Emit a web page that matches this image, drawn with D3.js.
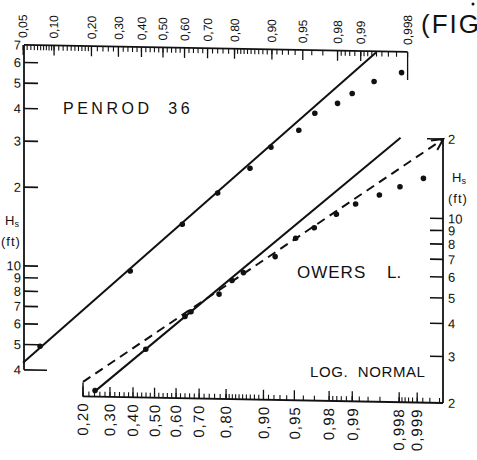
<!DOCTYPE html>
<meta charset="utf-8">
<script src="https://d3js.org/d3.v7.min.js"></script>
<style>
  body { margin: 0; background: #fff; }
  text { font-family: "Liberation Sans", Arial, sans-serif; fill: #111; }
</style>
<svg id="fig" width="477" height="460"></svg>
<script>
// ---- data ----
// Penrod 36 (upper panel, top probability axis, left H axis)
var penrodP = [0.074, 0.35, 0.59, 0.74, 0.847, 0.898, 0.945, 0.963, 0.98, 0.987, 0.9935, 0.9975];
var penrodH = [4.94, 9.72, 14.8, 19.6, 24.5, 29.6, 34.5, 40.2, 44.0, 48.1, 53.7, 58.3];
var penrodFitP = [0.0498, 0.9939];
var penrodFitH = [4.26, 69.3];

// Owers L. (lower panel, bottom probability axis, right H axis)
var owersP = [0.242, 0.459, 0.640, 0.666, 0.776, 0.819, 0.852, 0.922, 0.9516, 0.9699, 0.9838, 0.9910, 0.99592, 0.99806, 0.99922];
var owersH = [2.11, 3.05, 4.08, 4.26, 4.99, 5.63, 6.04, 6.98, 8.22, 9.04, 10.2, 11.19, 12.15, 13.1, 14.15];
var owersSolidP = [0.238, 0.9981];
var owersSolidH = [2.08, 20.1];
var owersDashP = [0.2, 0.99966];
var owersDashH = [2.27, 20];

// axis ticks and labels
var topTicks = [0.05, 0.10, 0.20, 0.30, 0.40, 0.50, 0.60, 0.70, 0.80, 0.90, 0.95, 0.98, 0.99, 0.998];
var topLabels = ["0,05", "0,10", "0,20", "0,30", "0,40", "0,50", "0,60", "0,70", "0,80", "0,90", "0,95", "0,98", "0,99", "0,998"];
var bottomTicks = [0.20, 0.30, 0.40, 0.50, 0.60, 0.70, 0.80, 0.90, 0.95, 0.98, 0.99, 0.998, 0.999];
var bottomLabels = ["0,20", "0,30", "0,40", "0,50", "0,60", "0,70", "0,80", "0,90", "0,95", "0,98", "0,99", "0,998", "0,999"];
var leftTicks = [4, 5, 6, 7, 8, 9, 10, 20, 30, 40, 50, 60, 70];
var leftLabels = ["4", "5", "6", "7", "8", "9", "10", "2", "3", "4", "5", "6", "7"];
var rightTicks = [2, 3, 4, 5, 6, 7, 8, 9, 10, 20];
var rightLabels = ["2", "3", "4", "5", "6", "7", "8", "9", "10", "2"];

// minor ticks of the probability paper
function fix(a) { return a.map(function(v) { return +v.toFixed(5); }); }
var topMinor = fix([].concat(d3.range(0.05, 0.1, 0.005), d3.range(0.1, 0.2, 0.01), d3.range(0.2, 0.8, 0.02),
  d3.range(0.8, 0.95, 0.01), [0.96, 0.97], d3.range(0.98, 0.99, 0.002), d3.range(0.99, 0.998, 0.001)));
var bottomMinor = fix([].concat(d3.range(0.2, 0.8, 0.02), d3.range(0.8, 0.95, 0.01), [0.96, 0.97],
  d3.range(0.98, 0.99, 0.002), d3.range(0.99, 0.998, 0.002), d3.range(0.998, 0.999, 0.0002), [0.9992, 0.9994, 0.9996]));

// inverse normal cdf (Acklam)
function probit(p) {
  var a = [-3.969683028665376e+01, 2.209460984245205e+02, -2.759285104469687e+02, 1.383577518672690e+02, -3.066479806614716e+01, 2.506628277459239e+00];
  var b = [-5.447609879822406e+01, 1.615858368580409e+02, -1.556989798598866e+02, 6.680131188771972e+01, -1.328068155288572e+01];
  var c = [-7.784894002430293e-03, -3.223964580411365e-01, -2.400758277161838e+00, -2.549732539343734e+00, 4.374664141464968e+00, 2.938163982698783e+00];
  var d = [7.784695709041462e-03, 3.224671290700398e-01, 2.445134137142996e+00, 3.754408661907416e+00];
  var pl = 0.02425, q, r;
  if (p < pl) {
    q = Math.sqrt(-2 * Math.log(p));
    return (((((c[0]*q+c[1])*q+c[2])*q+c[3])*q+c[4])*q+c[5]) / ((((d[0]*q+d[1])*q+d[2])*q+d[3])*q+1);
  }
  if (p > 1 - pl) {
    q = Math.sqrt(-2 * Math.log(1 - p));
    return -(((((c[0]*q+c[1])*q+c[2])*q+c[3])*q+c[4])*q+c[5]) / ((((d[0]*q+d[1])*q+d[2])*q+d[3])*q+1);
  }
  q = p - 0.5; r = q * q;
  return (((((a[0]*r+a[1])*r+a[2])*r+a[3])*r+a[4])*r+a[5])*q / (((((b[0]*r+b[1])*r+b[2])*r+b[3])*r+b[4])*r+1);
}

var svg = d3.select("#fig");

// the scanned page is slightly sheared, so the whole chart sits in a skewed group
var g = svg.append("g").attr("transform", "skewY(1.05)");

// scales
var zTop = d3.scaleLinear().domain([probit(0.05), probit(0.998)]).range([23.2, 407.6]);
var xTop = function(p) { return zTop(probit(p)); };
var yTop = d3.scaleLog().domain([10, 70]).range([265.4, 44.5]);

var zBot = d3.scaleLinear().domain([probit(0.2), probit(0.999)]).range([83, 417.2]);
var xBot = function(p) { return zBot(probit(p)); };
var yBot = d3.scaleLog().domain([2, 20]).range([394.9, 130.9]);

var leftX = 24, rightX = 443;
var topY = yTop(70), botY = yBot(2);

var ax = g.append("g").attr("stroke", "#111").attr("fill", "none");

// ---- top probability axis ----
ax.append("line").attr("x1", leftX).attr("x2", xTop(0.998)).attr("y1", topY).attr("y2", topY).attr("stroke-width", 1.8);
ax.selectAll(".tmin").data(topMinor).enter().append("line")
  .attr("x1", xTop).attr("x2", xTop).attr("y1", topY).attr("y2", topY + 5).attr("stroke-width", 1.1);
ax.selectAll(".tmaj").data(topTicks).enter().append("line")
  .attr("x1", xTop).attr("x2", xTop).attr("y1", topY)
  .attr("y2", function(d) { return d === 0.998 ? topY + 28 : topY + 10; }).attr("stroke-width", 1.3);
g.selectAll(".tlab").data(topTicks).enter().append("text")
  .attr("transform", function(d) { return "translate(" + xTop(d) + "," + (topY - 7) + ") rotate(-90)"; })
  .attr("dy", "0.35em").attr("font-size", 12).attr("text-anchor", "start")
  .text(function(d, i) { return topLabels[i]; });

// ---- left H axis (upper panel) ----
ax.append("line").attr("x1", leftX).attr("x2", leftX).attr("y1", topY).attr("y2", yTop(4)).attr("stroke-width", 1.8);
ax.selectAll(".lt").data(leftTicks.filter(function(d) { return d !== 70; })).enter().append("line")
  .attr("x1", leftX).attr("x2", function(d) { return d === 4 ? leftX + 23 : leftX + 14; })
  .attr("y1", yTop).attr("y2", yTop).attr("stroke-width", 1.6);
g.selectAll(".llab").data(leftTicks).enter().append("text")
  .attr("x", leftX - 3).attr("y", yTop).attr("dy", "0.36em")
  .attr("font-size", 13).attr("text-anchor", "end")
  .text(function(d, i) { return leftLabels[i]; });

// ---- bottom probability axis ----
ax.append("line").attr("x1", xBot(0.2)).attr("x2", rightX).attr("y1", botY).attr("y2", botY).attr("stroke-width", 1.8);
ax.append("line").attr("x1", xBot(0.2)).attr("x2", xBot(0.2)).attr("y1", botY).attr("y2", botY - 14).attr("stroke-width", 1.4);
ax.selectAll(".bmin").data(bottomMinor).enter().append("line")
  .attr("x1", xBot).attr("x2", xBot).attr("y1", botY).attr("y2", botY - 5).attr("stroke-width", 1.1);
ax.selectAll(".bmaj").data(bottomTicks).enter().append("line")
  .attr("x1", xBot).attr("x2", xBot).attr("y1", botY).attr("y2", botY - 10).attr("stroke-width", 1.3);
g.selectAll(".blab").data(bottomTicks).enter().append("text")
  .attr("transform", function(d) { return "translate(" + xBot(d) + "," + (botY + 6) + ") rotate(-90)"; })
  .attr("dy", "0.35em").attr("font-size", 15).attr("letter-spacing", 1).attr("text-anchor", "end")
  .text(function(d, i) { return bottomLabels[i]; });

// ---- right H axis (lower panel) ----
ax.append("line").attr("x1", rightX).attr("x2", rightX).attr("y1", yBot(20)).attr("y2", botY).attr("stroke-width", 1.8);
ax.selectAll(".rt").data(rightTicks.filter(function(d) { return d !== 2; })).enter().append("line")
  .attr("x1", rightX).attr("x2", function(d) { return d === 20 ? rightX - 16 : rightX - 13; })
  .attr("y1", yBot).attr("y2", yBot).attr("stroke-width", 1.6);
g.selectAll(".rlab").data(rightTicks).enter().append("text")
  .attr("x", rightX + 5).attr("y", yBot).attr("dy", "0.36em")
  .attr("font-size", 13).attr("text-anchor", "start")
  .text(function(d, i) { return rightLabels[i]; });

// ---- fitted lines ----
var lineTop = d3.line().x(function(d) { return xTop(d[0]); }).y(function(d) { return yTop(d[1]); });
var lineBot = d3.line().x(function(d) { return xBot(d[0]); }).y(function(d) { return yBot(d[1]); });

g.append("path").attr("d", lineTop(d3.zip(penrodFitP, penrodFitH)))
  .attr("fill", "none").attr("stroke", "#111").attr("stroke-width", 2);
g.append("path").attr("d", lineBot(d3.zip(owersSolidP, owersSolidH)))
  .attr("fill", "none").attr("stroke", "#111").attr("stroke-width", 2);

svg.append("defs").append("marker").attr("id", "arr")
  .attr("viewBox", "0 0 10 10").attr("refX", 9).attr("refY", 5)
  .attr("markerWidth", 7).attr("markerHeight", 7).attr("orient", "auto")
  .append("path").attr("d", "M1,1 L9,5 L1,9").attr("fill", "none").attr("stroke", "#111").attr("stroke-width", 1.4);

g.append("path").attr("d", lineBot(d3.zip(owersDashP, owersDashH)))
  .attr("fill", "none").attr("stroke", "#111").attr("stroke-width", 2)
  .attr("stroke-dasharray", "9,6").attr("marker-end", "url(#arr)");

// ---- points ----
g.selectAll(".pp").data(d3.zip(penrodP, penrodH)).enter().append("circle")
  .attr("cx", function(d) { return xTop(d[0]); }).attr("cy", function(d) { return yTop(d[1]); })
  .attr("r", 2.8).attr("fill", "#111");
g.selectAll(".op").data(d3.zip(owersP, owersH)).enter().append("circle")
  .attr("cx", function(d) { return xBot(d[0]); }).attr("cy", function(d) { return yBot(d[1]); })
  .attr("r", 2.8).attr("fill", "#111");

// ---- annotations ----
svg.append("text").attr("x", 63).attr("y", 114).attr("font-size", 16).attr("letter-spacing", 3.5)
  .style("white-space", "pre").text("PENROD  36");
svg.append("text").attr("x", 297).attr("y", 278).attr("font-size", 17).attr("letter-spacing", 1).text("OWERS");
svg.append("text").attr("x", 387).attr("y", 278).attr("font-size", 17).text("L.");
svg.append("text").attr("x", 310).attr("y", 377).attr("font-size", 15).attr("letter-spacing", 0.6)
  .style("white-space", "pre").text("LOG.  NORMAL");
svg.append("text").attr("x", 421).attr("y", 33).attr("font-size", 26).attr("letter-spacing", 2).text("(FIG");
svg.append("circle").attr("cx", 473).attr("cy", 4).attr("r", 1.5).attr("fill", "#111");

// H_s (ft) labels
function hsLabel(x, y) {
  var t = svg.append("text").attr("x", x).attr("y", y).attr("font-size", 13);
  t.append("tspan").text("H");
  t.append("tspan").attr("font-size", 9).attr("dy", 2).text("s");
  svg.append("text").attr("x", x - 4).attr("y", y + 21).attr("font-size", 13).attr("letter-spacing", 1).text("(ft)");
}
hsLabel(5, 225);
hsLabel(452, 182);
</script>
